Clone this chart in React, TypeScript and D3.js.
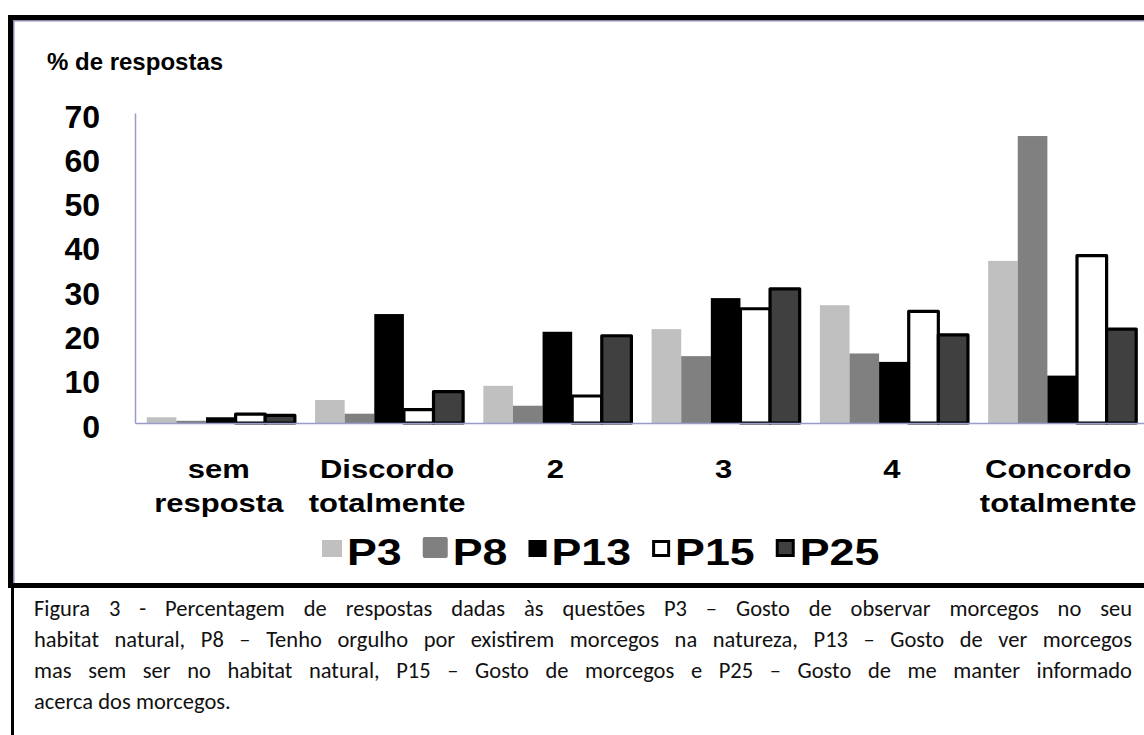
import React, { useEffect, useRef } from "react";
import * as d3 from "d3";

// Response categories (label lines) on the x axis
const categoryLines: string[][] = [
  ["sem", "resposta"],
  ["Discordo", "totalmente"],
  ["2"],
  ["3"],
  ["4"],
  ["Concordo", "totalmente"],
];

const seriesNames = ["P3", "P8", "P13", "P15", "P25"];

// % of answers per category, one array per question
const p3 = [1.3, 5.2, 8.4, 21.2, 26.6, 36.6];
const p8 = [0.5, 2.1, 3.9, 15.1, 15.7, 64.8];
const p13 = [1.3, 24.6, 20.6, 28.2, 13.8, 10.7];
const p15 = [2.0, 3.0, 6.1, 25.8, 25.2, 37.8];
const p25 = [1.7, 7.1, 19.7, 30.3, 19.9, 21.2];

const yTicks = [0, 10, 20, 30, 40, 50, 60, 70];

const captionLines = [
  "Figura 3 - Percentagem de respostas dadas às questões P3 – Gosto de observar morcegos no seu",
  "habitat natural, P8 – Tenho orgulho por existirem morcegos na natureza, P13 – Gosto de ver morcegos",
  "mas sem ser no habitat natural, P15 – Gosto de morcegos e P25 – Gosto de me manter informado",
  "acerca dos morcegos.",
];

const seriesValues = [p3, p8, p13, p15, p25];
const fills = ["#c0c0c0", "#808080", "#000000", "#ffffff", "#404040"];
const stroked = [false, false, false, true, true];

const ARIAL = "'Liberation Sans', Arial, Helvetica, sans-serif";
const CAPTION_FONT = "Carlito, Calibri, Lato, sans-serif";
const CAPTION_SIZE = 22.5;
const AXIS_COLOR = "#9a9acb";

export default function App() {
  const ref = useRef<SVGSVGElement>(null);

  useEffect(() => {
    const W = 1144;
    const H = 735;
    const svg = d3.select(ref.current!);
    svg.selectAll("*").remove();

    svg.append("rect").attr("width", W).attr("height", H).attr("fill", "#fff");

    const y = d3.scaleLinear().domain([0, 70]).range([423, 113]);
    const x0 = d3
      .scaleBand<number>()
      .domain(categoryLines.map((_, i) => i))
      .range([135, 1148])
      .paddingInner(0.12)
      .paddingOuter(0.07);
    const x1 = d3.scaleBand<string>().domain(seriesNames).range([0, x0.bandwidth()]);

    // title
    svg
      .append("text")
      .attr("x", 47)
      .attr("y", 70)
      .attr("font-family", ARIAL)
      .attr("font-weight", "bold")
      .attr("font-size", 24)
      .text("% de respostas");

    // bars: plain fills first, outlined ones on top
    const order = [0, 1, 2, 3, 4].sort((a, b) => Number(stroked[a]) - Number(stroked[b]));
    order.forEach((s) => {
      const g = svg.append("g");
      g.selectAll("rect")
        .data(seriesValues[s])
        .join("rect")
        .attr("x", (_, i) => x0(i)! + x1(seriesNames[s])!)
        .attr("y", (d) => y(d))
        .attr("width", x1.bandwidth())
        .attr("height", (d) => y(0) - y(d))
        .attr("fill", fills[s])
        .attr("stroke", stroked[s] ? "#000" : "none")
        .attr("stroke-width", stroked[s] ? 3.2 : 0)
        .attr("stroke-linejoin", "round");
    });

    // y axis
    const yAxis = svg
      .append("g")
      .attr("transform", "translate(135,0)")
      .call(d3.axisLeft(y).tickValues(yTicks).tickSize(0).tickPadding(35));
    yAxis.select(".domain").attr("stroke", AXIS_COLOR).attr("stroke-width", 1.5);
    yAxis
      .selectAll("text")
      .attr("font-family", ARIAL)
      .attr("font-weight", "bold")
      .attr("font-size", 32)
      .attr("fill", "#000")
      .attr("dy", "0.44em");

    // x axis baseline
    const xAxis = svg
      .append("g")
      .attr("transform", `translate(0,${y(0)})`)
      .call(d3.axisBottom(x0).tickValues([]).tickSizeOuter(0));
    xAxis.select(".domain").attr("stroke", AXIS_COLOR).attr("stroke-width", 1.5);

    // category labels
    categoryLines.forEach((lines, i) => {
      const cx = x0(i)! + x0.bandwidth() / 2 - (i === categoryLines.length - 1 ? 4 : 2);
      lines.forEach((line, j) => {
        svg
          .append("text")
          .attr("transform", `translate(${cx},${478 + j * 34}) scale(1.24,1)`)
          .attr("text-anchor", "middle")
          .attr("font-family", ARIAL)
          .attr("font-weight", "bold")
          .attr("font-size", 25)
          .text(line);
      });
    });

    // legend
    const swatch = [
      { w: 20, h: 17, dy: 0 },
      { w: 25, h: 21, dy: -3 },
      { w: 18, h: 17, dy: 0 },
      { w: 18, h: 17, dy: 0 },
      { w: 19, h: 18, dy: -1 },
    ];
    let lx = 322;
    const legendBase = 565;
    seriesNames.forEach((name, s) => {
      const sw = swatch[s];
      const inset = stroked[s] ? 1.5 : 0;
      svg
        .append("rect")
        .attr("x", lx + inset)
        .attr("y", 540 + sw.dy + inset)
        .attr("width", sw.w - inset * 2)
        .attr("height", sw.h - inset * 2)
        .attr("rx", s === 1 ? 2 : 0)
        .attr("fill", fills[s])
        .attr("stroke", stroked[s] ? "#000" : "none")
        .attr("stroke-width", stroked[s] ? 3 : 0);
      const tx = lx + sw.w + 5;
      const t = svg
        .append("text")
        .attr("transform", `translate(${tx},${legendBase}) scale(1.21,1)`)
        .attr("font-family", ARIAL)
        .attr("font-weight", "bold")
        .attr("font-size", 37)
        .text(name);
      const tw = (t.node() as SVGTextElement).getComputedTextLength() * 1.21;
      lx = tx + tw + 21;
    });

    // frame around the chart
    svg.append("rect").attr("x", 8).attr("y", 15).attr("width", W).attr("height", 5).attr("fill", "#000");
    svg.append("rect").attr("x", 13).attr("y", 20).attr("width", W).attr("height", 1.5).attr("fill", "#8a8aae");
    svg.append("rect").attr("x", 8).attr("y", 15).attr("width", 5).attr("height", 573).attr("fill", "#000");
    svg.append("rect").attr("x", 13).attr("y", 20).attr("width", 1.5).attr("height", 563).attr("fill", "#8a8aae");
    svg.append("rect").attr("x", 8).attr("y", 583).attr("width", W).attr("height", 5).attr("fill", "#000");
    // caption box left rule
    svg.append("rect").attr("x", 11).attr("y", 588).attr("width", 3).attr("height", H - 588).attr("fill", "#000");

    // caption, justified
    const left = 34;
    const right = 1132;
    captionLines.forEach((line, li) => {
      const words = line.split(" ");
      const base = 616 + li * 31;
      const g = svg.append("g");
      const nodes = words.map((w) =>
        g
          .append("text")
          .attr("font-family", CAPTION_FONT)
          .attr("font-size", CAPTION_SIZE)
          .attr("fill", "#111")
          .attr("y", base)
          .text(w)
      );
      const widths = nodes.map((n) => (n.node() as SVGTextElement).getComputedTextLength());
      const last = li === captionLines.length - 1;
      const total = d3.sum(widths);
      const space = CAPTION_SIZE * 0.23;
      const gap = last ? space : Math.max(space * 0.8, (right - left - total) / (words.length - 1));
      let cx = left;
      nodes.forEach((n, k) => {
        n.attr("x", cx);
        cx += widths[k] + gap;
      });
    });
  }, []);

  return (
    <svg
      ref={ref}
      width={1144}
      height={735}
      style={{ position: "absolute", left: 0, top: 0, display: "block" }}
    />
  );
}
